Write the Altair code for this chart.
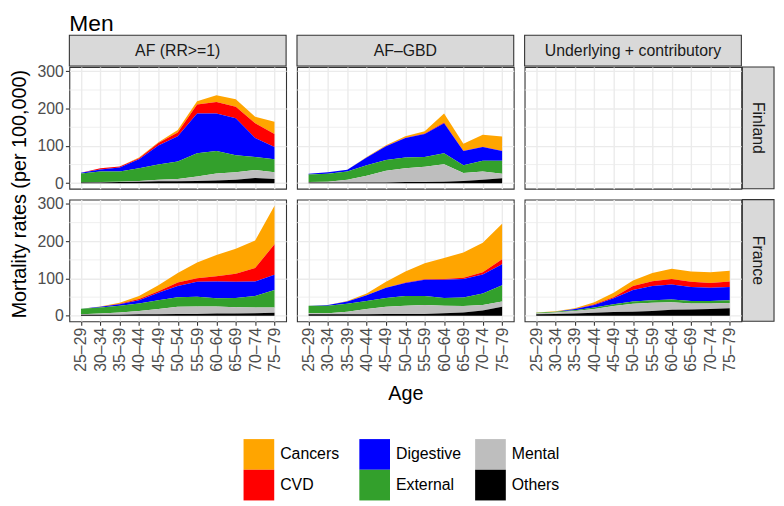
import altair as alt
import pandas as pd

FONT = "Liberation Sans"

title_text = "Men"
y_title = "Mortality rates (per 100,000)"
x_title = "Age"

ages = ["25–29", "30–34", "35–39", "40–44", "45–49", "50–54",
        "55–59", "60–64", "65–69", "70–74", "75–79"]
causes = ["Cancers", "CVD", "Digestive", "External", "Mental", "Others"]
cause_colors = ["#FFA500", "#FF0000", "#0000FF", "#33A02C", "#BEBEBE", "#000000"]
# stacking rank: Others at the bottom, Cancers on top
stack_rank = [5, 4, 3, 2, 1, 0]

measures = ["AF (RR>=1)", "AF–GBD", "Underlying + contributory"]
countries = ["Finland", "France"]

y_breaks = [0, 100, 200, 300]
y_minor = [50, 150, 250]
y_limits = [-14.85, 311.85]

# ---- Finland, AF (RR>=1)
fi_af_cancers = [0, 0, 0, 2, 2, 7, 9, 18, 20, 17, 33]
fi_af_cvd = [0, 3, 3, 3, 7, 10, 24, 31, 31, 40, 35]
fi_af_digestive = [2, 6, 11, 24, 51, 68, 107, 101, 99, 51, 33]
fi_af_external = [24, 28, 27, 34, 41, 47, 62, 60, 46, 35, 35]
fi_af_mental = [0, 1, 1, 2, 4, 6, 12, 19, 20, 21, 18]
fi_af_others = [2, 2, 3, 4, 5, 5, 6, 7, 9, 14, 11]

# ---- Finland, AF-GBD
fi_gbd_cancers = [0, 0, 0, 1, 2, 4, 6, 24, 19, 32, 38]
fi_gbd_cvd = [0, 0, 0, 0, 1, 1, 1, 2, 1, 1, 1]
fi_gbd_digestive = [2, 4, 5, 21, 37, 52, 62, 81, 38, 37, 26]
fi_gbd_external = [20, 21, 22, 28, 29, 29, 26, 29, 21, 29, 35]
fi_gbd_mental = [1, 2, 7, 18, 31, 37, 41, 47, 21, 22, 12]
fi_gbd_others = [2, 2, 2, 2, 2, 3, 3, 4, 6, 9, 13]

# ---- France, AF (RR>=1)
fr_af_cancers = [0, 1, 3, 8, 16, 26, 42, 57, 67, 74, 103]
fr_af_cvd = [0, 0, 1, 3, 4, 9, 10, 14, 22, 36, 82]
fr_af_digestive = [0, 2, 4, 9, 20, 30, 40, 45, 43, 39, 41]
fr_af_external = [15, 16, 18, 20, 24, 26, 26, 22, 25, 31, 47]
fr_af_mental = [1, 3, 6, 9, 14, 19, 20, 19, 17, 15, 14]
fr_af_others = [3, 3, 3, 4, 4, 5, 5, 6, 6, 7, 8]

# ---- France, AF-GBD
fr_gbd_cancers = [0, 0, 2, 5, 16, 30, 43, 56, 68, 79, 95]
fr_gbd_cvd = [0, 0, 0, 0, 0, 1, 1, 2, 3, 6, 14]
fr_gbd_digestive = [0, 2, 6, 15, 27, 35, 44, 49, 50, 51, 56]
fr_gbd_external = [20, 20, 21, 22, 24, 26, 24, 21, 23, 31, 44]
fr_gbd_mental = [3, 3, 7, 14, 19, 22, 24, 20, 17, 15, 14]
fr_gbd_others = [4, 4, 4, 4, 5, 5, 5, 7, 9, 14, 24]

# ---- France, Underlying + contributory
fr_uc_cancers = [1, 1, 2, 5, 12, 15, 22, 27, 28, 29, 29]
fr_uc_cvd = [0, 0, 0, 2, 3, 11, 13, 15, 14, 13, 15]
fr_uc_digestive = [0, 0, 3, 7, 16, 31, 38, 40, 37, 35, 35]
fr_uc_external = [2, 2, 2, 4, 5, 6, 7, 8, 7, 7, 8]
fr_uc_mental = [2, 4, 7, 10, 16, 21, 22, 20, 16, 15, 14]
fr_uc_others = [4, 5, 6, 8, 10, 11, 13, 16, 17, 18, 20]

panel_series = {
    ("Finland", measures[0]): [fi_af_cancers, fi_af_cvd, fi_af_digestive,
                               fi_af_external, fi_af_mental, fi_af_others],
    ("Finland", measures[1]): [fi_gbd_cancers, fi_gbd_cvd, fi_gbd_digestive,
                               fi_gbd_external, fi_gbd_mental, fi_gbd_others],
    ("France", measures[0]): [fr_af_cancers, fr_af_cvd, fr_af_digestive,
                              fr_af_external, fr_af_mental, fr_af_others],
    ("France", measures[1]): [fr_gbd_cancers, fr_gbd_cvd, fr_gbd_digestive,
                              fr_gbd_external, fr_gbd_mental, fr_gbd_others],
    ("France", measures[2]): [fr_uc_cancers, fr_uc_cvd, fr_uc_digestive,
                              fr_uc_external, fr_uc_mental, fr_uc_others],
}

rows = []
for (country, measure), series in panel_series.items():
    for cause, rank, vals in zip(causes, stack_rank, series):
        for age, v in zip(ages, vals):
            rows.append({"country": country, "measure": measure, "age": age,
                         "cause": cause, "rank": rank, "value": v})
df = pd.DataFrame(rows)

PW, PH = 219, 123
STRIP_H = 21
GRID = "#EBEBEB"
DARK = "#333333"

legend = alt.Legend(
    title=None, orient="none", legendX=176, legendY=408, columns=3,
    direction="vertical",
    symbolType="square", symbolSize=961, symbolStrokeWidth=0,
    labelFontSize=16, labelFont=FONT, labelColor="black", labelOffset=6,
    rowPadding=0, columnPadding=14, gridAlign="all", padding=0,
)


def y_axis(left):
    return alt.Axis(values=y_breaks, title=None, labels=left, ticks=left,
                    domain=False, grid=True)


def panel(country, measure, row, col):
    bottom = row == 1
    left = col == 0
    sub = df[(df.country == country) & (df.measure == measure)]
    yscale = alt.Scale(domain=y_limits, nice=False, zero=False)
    minor = alt.Chart(pd.DataFrame({"v": y_minor})).mark_rule(
        color=GRID, strokeWidth=0.8
    ).encode(y=alt.Y("v:Q", scale=yscale, axis=y_axis(left)))
    area = alt.Chart(sub).mark_area(interpolate="linear").encode(
        x=alt.X("age:N", sort=ages,
                scale=alt.Scale(type="point", domain=ages, padding=0.6),
                axis=alt.Axis(title=None, labels=bottom, ticks=bottom,
                              domain=False, grid=True, labelAngle=270)),
        y=alt.Y("value:Q", stack="zero", scale=yscale, axis=y_axis(left)),
        color=alt.Color("cause:N",
                        scale=alt.Scale(domain=causes, range=cause_colors),
                        legend=legend),
        order=alt.Order("rank:Q", sort="ascending"),
    )
    return alt.layer(minor, area).properties(
        width=PW, height=PH,
        view=alt.ViewBackground(stroke=DARK, strokeWidth=1.1, fill="white"),
    )


def col_strip(label, decor=False):
    base = alt.Chart(pd.DataFrame({"label": [label]}))
    rect = base.mark_rect(fill="#D9D9D9", stroke=DARK, strokeWidth=1.1).encode(
        x=alt.value(0), x2=alt.value(PW), y=alt.value(0), y2=alt.value(31))
    txt = base.mark_text(font=FONT, fontSize=16, color="#1A1A1A",
                         align="center", baseline="middle").encode(
        text="label:N", x=alt.value(PW / 2), y=alt.value(15.5))
    layers = [rect, txt]
    if decor:
        anchor = base.mark_rect(fillOpacity=0, strokeOpacity=0).encode(
            x=alt.value(-61), x2=alt.value(0), y=alt.value(-24), y2=alt.value(0))
        ttl = alt.Chart(pd.DataFrame({"t": [title_text]})).mark_text(
            font=FONT, fontSize=23, color="black", align="left",
            baseline="alphabetic").encode(text="t:N", x=alt.value(0), y=alt.value(-4))
        ytl = alt.Chart(pd.DataFrame({"t": [y_title]})).mark_text(
            font=FONT, fontSize=20, color="black", align="center",
            baseline="middle", angle=270).encode(
            text="t:N", x=alt.value(-50), y=alt.value(160.5))
        xtl = alt.Chart(pd.DataFrame({"t": [x_title]})).mark_text(
            font=FONT, fontSize=20, color="black", align="center",
            baseline="alphabetic").encode(
            text="t:N", x=alt.value(340), y=alt.value(368))
        layers = [anchor] + layers + [ttl, ytl, xtl]
    return alt.layer(*layers).properties(
        width=PW, height=STRIP_H,
        view=alt.ViewBackground(stroke="transparent"))


def row_strip(label):
    base = alt.Chart(pd.DataFrame({"label": [label]}))
    rect = base.mark_rect(fill="#D9D9D9", stroke=DARK, strokeWidth=1.1).encode(
        x=alt.value(-10), x2=alt.value(22), y=alt.value(0), y2=alt.value(PH))
    txt = base.mark_text(font=FONT, fontSize=16, color="#1A1A1A", angle=90,
                         align="center", baseline="middle").encode(
        text="label:N", x=alt.value(6), y=alt.value(PH / 2))
    return alt.layer(rect, txt).properties(
        width=22, height=PH, view=alt.ViewBackground(stroke="transparent"))


blank = alt.Chart(pd.DataFrame({"a": [0]})).mark_point(opacity=0).encode(
    x=alt.value(0), y=alt.value(0)).properties(
    width=22, height=STRIP_H, view=alt.ViewBackground(stroke="transparent"))

charts = [col_strip(measures[0], decor=True), col_strip(measures[1]),
          col_strip(measures[2]), blank]
for r, country in enumerate(countries):
    for c, measure in enumerate(measures):
        charts.append(panel(country, measure, r, c))
    charts.append(row_strip(country))

chart = alt.concat(*charts, columns=4, spacing=11, bounds="flush",
                   padding=0, background="white").configure_axis(
    labelFont=FONT, labelFontSize=16, labelColor="#4D4D4D",
    tickColor=DARK, tickSize=4, tickWidth=1.1, gridColor=GRID,
    gridWidth=1.4, labelPadding=2,
)

chart.save("out.html", embed_options={"renderer": "svg", "actions": False})
